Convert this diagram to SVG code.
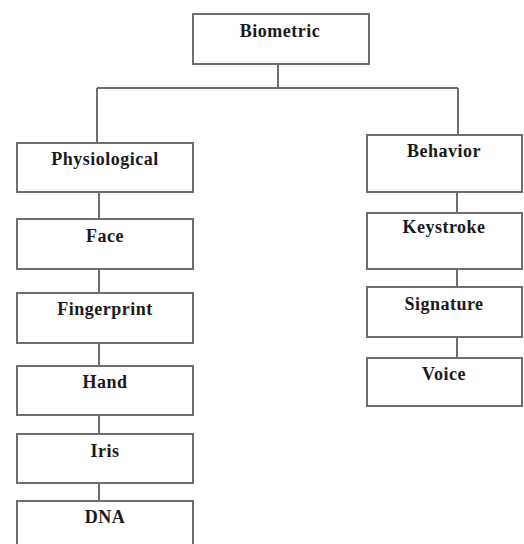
<svg xmlns="http://www.w3.org/2000/svg" width="524" height="544" viewBox="0 0 524 544">
<style>
.box{fill:#fff;stroke:#6e6e6e;stroke-width:2}
.lbl{font-family:"Liberation Serif","Times New Roman",serif;font-weight:bold;font-size:18px;letter-spacing:0.5px;fill:#1a1a1a;text-anchor:middle}
.conn{stroke:#6e6e6e;stroke-width:2;fill:none}
</style>
<rect width="524" height="544" fill="#fff"/>
<g id="connectors">
<path class="conn" d="M278 64 V88 M97 88 H458 M97 88 V143 M458 88 V135"/>
<path class="conn" d="M99 192 V219 M99 269 V293 M99 343 V366 M99 415 V434 M99 483 V501"/>
<path class="conn" d="M457 192 V213 M457 269 V287 M457 337 V358"/>
</g>
<g id="biometric"><rect class="box" x="193" y="14" width="176" height="50"/><text class="lbl" x="280" y="37">Biometric</text></g>
<g id="physiological"><rect class="box" x="17" y="143" width="176" height="49"/><text class="lbl" x="105" y="165">Physiological</text></g>
<g id="face"><rect class="box" x="17" y="219" width="176" height="50"/><text class="lbl" x="105" y="242">Face</text></g>
<g id="fingerprint"><rect class="box" x="17" y="293" width="176" height="50"/><text class="lbl" x="105" y="315">Fingerprint</text></g>
<g id="hand"><rect class="box" x="17" y="366" width="176" height="49"/><text class="lbl" x="105" y="388">Hand</text></g>
<g id="iris"><rect class="box" x="17" y="434" width="176" height="49"/><text class="lbl" x="105" y="457">Iris</text></g>
<g id="dna"><rect class="box" x="17" y="501" width="176" height="60"/><text class="lbl" x="105" y="523">DNA</text></g>
<g id="behavior"><rect class="box" x="367" y="135" width="155" height="57"/><text class="lbl" x="444" y="157">Behavior</text></g>
<g id="keystroke"><rect class="box" x="367" y="213" width="155" height="56"/><text class="lbl" x="444" y="233">Keystroke</text></g>
<g id="signature"><rect class="box" x="367" y="287" width="155" height="50"/><text class="lbl" x="444" y="310">Signature</text></g>
<g id="voice"><rect class="box" x="367" y="358" width="155" height="48"/><text class="lbl" x="444" y="380">Voice</text></g>
</svg>
